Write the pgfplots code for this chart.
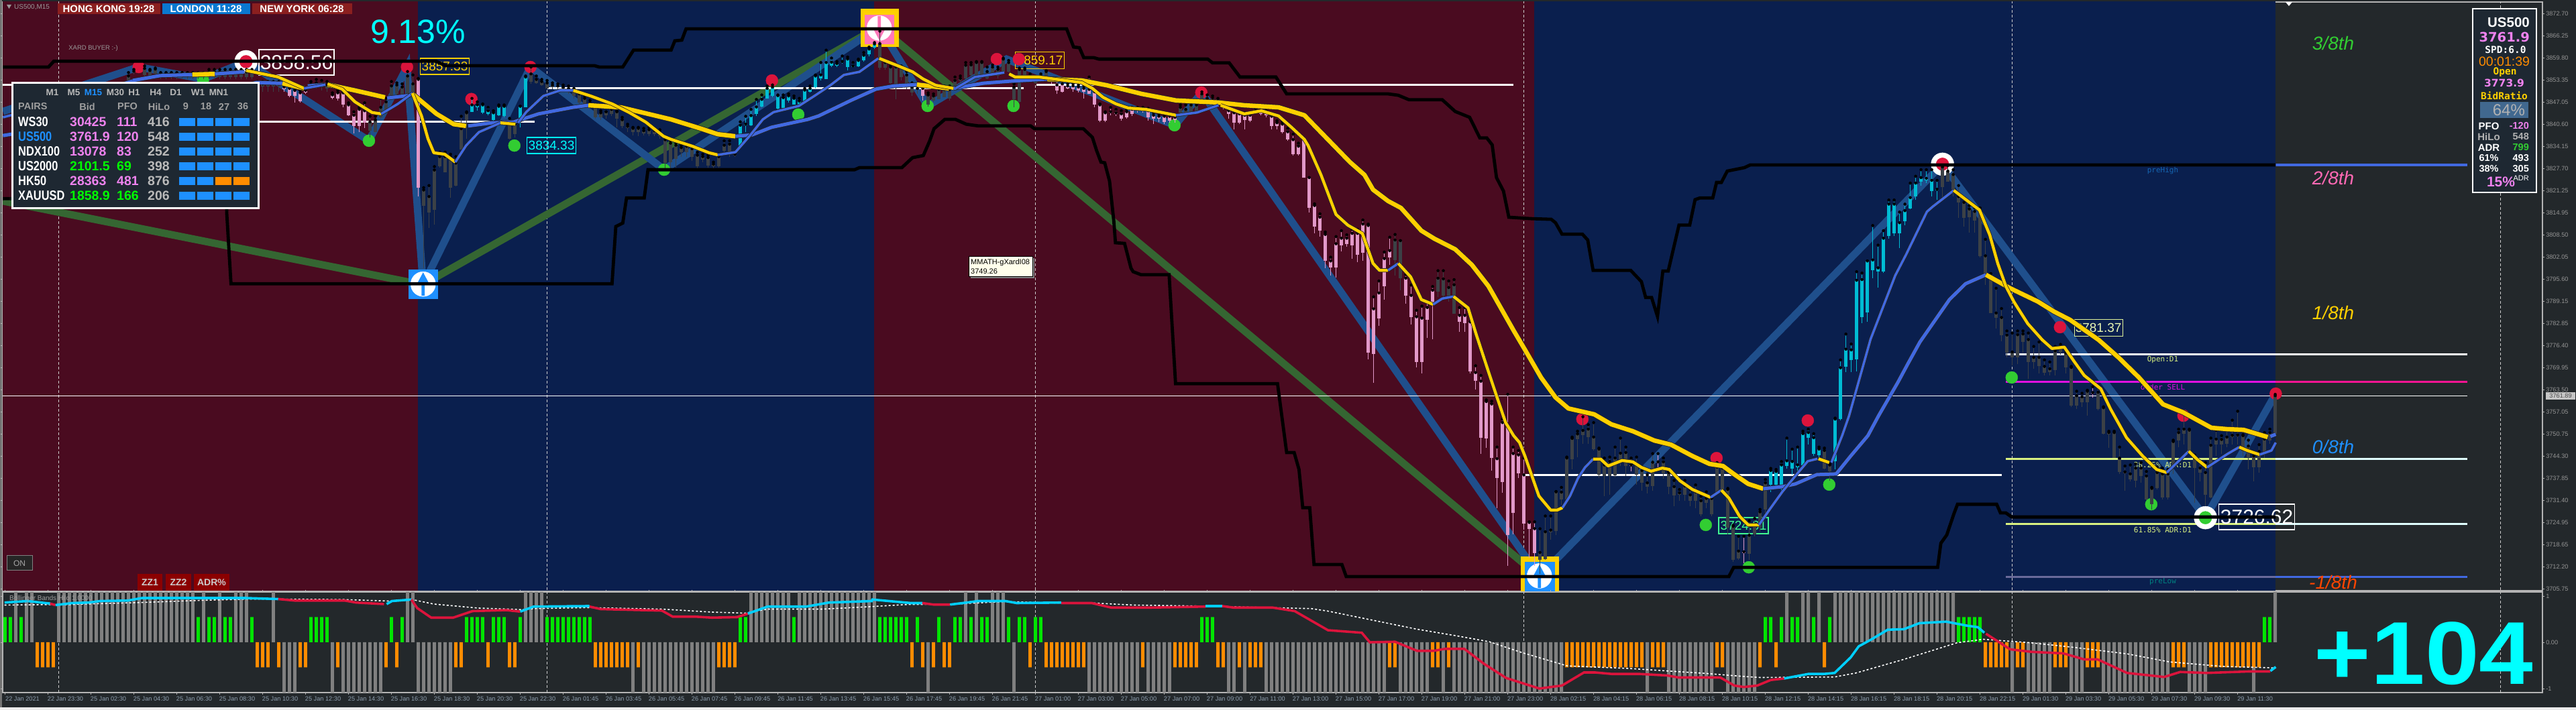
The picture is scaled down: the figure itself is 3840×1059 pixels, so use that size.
\documentclass[border=0pt]{standalone}
\usepackage{fontspec}
\setmainfont{Liberation Sans}
\newfontfamily\mono{DejaVu Sans Mono}
\newfontfamily\dv{DejaVu Sans}
\usepackage{graphicx}
\usepackage{pgfplots}
\usepackage{pgfplotstable}
\pgfplotsset{compat=1.18}
\definecolor{bgd}{HTML}{23282B}
\definecolor{sred}{HTML}{4A0B20}
\definecolor{sblu}{HTML}{0A1F4E}
\definecolor{zgreen}{HTML}{356632}
\definecolor{zblue}{HTML}{1F4F8C}
\definecolor{maB}{HTML}{4169E1}
\definecolor{maG}{HTML}{FFD000}
\definecolor{cpink}{HTML}{E299C9}
\definecolor{ccyan}{HTML}{00BCD4}
\definecolor{cgrey}{HTML}{3C4146}
\definecolor{crim}{HTML}{DC143C}
\definecolor{lime}{HTML}{32CD32}
\definecolor{vio}{HTML}{EE82EE}
\definecolor{pale}{HTML}{D8F080}
\definecolor{dodger}{HTML}{1E90FF}
\definecolor{oran}{HTML}{FF8C00}
\definecolor{gridc}{HTML}{B4B4B4}
\definecolor{aqua}{HTML}{00FFFF}
\definecolor{skyl}{HTML}{00CFFF}
\definecolor{magz}{HTML}{E010E0}
\definecolor{dpink}{HTML}{FF1493}
\definecolor{hpink}{HTML}{FF69B4}
\definecolor{boxpink}{HTML}{FF78B8}
\definecolor{tabr}{HTML}{8B1F1F}
\definecolor{tabb}{HTML}{0A78D0}
\definecolor{plowm}{HTML}{6A6A9A}
\definecolor{icew}{HTML}{DFFFFF}
\definecolor{mint}{HTML}{40FF90}
\definecolor{orred}{HTML}{FF4500}
\definecolor{panf}{HTML}{1E2832}
\definecolor{xlab}{HTML}{8F9FAF}
\definecolor{steel}{HTML}{41688F}
\definecolor{darkr}{HTML}{8B0000}
\newcommand\fs[1]{\fontsize{#1}{#1}\selectfont}
% candles: n high low bodytop bodybottom
\pgfplotstableread{
n hi lo top bot
52 3852.0 3850.0 3851.4 3850.7
53 3851.7 3848.4 3851.0 3848.8
54 3850.7 3846.8 3850.4 3848.8
55 3850.4 3846.8 3849.7 3847.3
56 3850.7 3849.4 3850.4 3849.7
61 3849.7 3847.8 3849.1 3848.3
62 3850.4 3847.5 3849.7 3848.1
63 3850.0 3845.5 3849.7 3846.2
64 3846.8 3842.9 3846.2 3843.2
65 3844.2 3838.0 3843.2 3840.0
66 3845.5 3838.4 3844.9 3840.0
67 3846.8 3839.4 3844.5 3841.0
77 3853.9 3819.6 3853.6 3822.2
171 3851.7 3847.5 3851.0 3848.8
195 3853.9 3852.3 3853.6 3853.0
196 3853.3 3849.4 3852.0 3850.4
197 3853.0 3849.7 3852.3 3850.0
198 3852.3 3850.7 3851.7 3851.0
199 3852.3 3850.0 3851.7 3850.7
200 3852.0 3849.7 3851.4 3850.4
201 3851.7 3848.1 3851.0 3850.0
202 3854.3 3849.4 3850.7 3849.4
203 3850.7 3845.5 3850.0 3846.2
204 3846.5 3841.3 3846.2 3841.6
205 3844.2 3841.3 3843.9 3841.6
206 3845.5 3843.2 3844.2 3843.9
207 3844.9 3842.9 3843.9 3843.6
208 3844.5 3841.6 3843.6 3842.3
209 3844.9 3842.3 3844.2 3842.6
210 3845.5 3842.9 3844.9 3843.6
211 3845.5 3843.9 3844.9 3844.5
212 3845.5 3843.9 3844.9 3844.5
213 3845.2 3841.6 3844.5 3842.6
214 3843.9 3840.6 3843.2 3842.3
215 3843.6 3841.3 3842.9 3842.3
216 3843.6 3840.6 3842.9 3841.3
217 3843.6 3841.0 3842.9 3841.6
218 3843.2 3841.0 3842.6 3841.9
225 3848.8 3847.5 3848.1 3847.8
226 3848.1 3846.8 3847.8 3847.5
227 3846.5 3844.9 3846.2 3845.5
228 3844.9 3842.3 3844.5 3843.6
229 3844.5 3839.0 3843.9 3841.0
230 3843.9 3840.6 3843.6 3841.0
231 3843.9 3839.0 3843.2 3841.9
232 3843.9 3841.3 3843.2 3841.6
233 3845.5 3844.2 3844.9 3844.5
234 3845.5 3843.2 3844.9 3843.6
235 3845.2 3842.6 3844.5 3843.2
236 3842.9 3839.0 3842.9 3840.0
237 3841.6 3839.0 3841.0 3840.0
238 3841.3 3838.0 3840.6 3838.4
239 3839.4 3835.8 3838.4 3836.1
240 3837.7 3831.6 3836.1 3831.9
241 3835.1 3831.6 3834.2 3831.9
242 3836.4 3825.1 3836.1 3825.1
243 3825.1 3815.0 3825.1 3816.3
244 3817.5 3809.0 3817.0 3810.9
245 3814.6 3808.0 3813.6 3809.7
246 3809.3 3798.9 3808.6 3800.9
247 3802.0 3796.7 3800.9 3799.0
248 3808.0 3796.0 3805.9 3799.0
249 3809.7 3803.6 3807.5 3805.5
250 3808.5 3805.0 3807.5 3805.9
251 3810.1 3801.6 3808.9 3805.5
252 3810.1 3800.5 3808.9 3802.8
253 3812.8 3800.9 3811.6 3803.2
254 3811.6 3772.4 3811.2 3774.3
255 3790.5 3765.5 3787.0 3774.0
256 3795.1 3782.0 3791.6 3784.3
257 3803.5 3789.7 3801.6 3793.5
258 3807.8 3799.7 3803.9 3802.0
261 3797.0 3788.5 3795.9 3790.9
262 3793.9 3782.4 3790.9 3784.7
263 3786.6 3770.1 3784.7 3771.6
264 3787.8 3768.2 3784.3 3771.6
265 3788.9 3778.5 3787.4 3783.9
266 3793.5 3778.2 3792.4 3788.2
271 3787.4 3780.4 3785.1 3783.2
272 3787.4 3780.4 3785.1 3782.8
273 3784.7 3768.2 3783.2 3768.9
274 3770.5 3763.5 3768.5 3766.2
275 3767.7 3745.0 3766.0 3749.6
276 3760.6 3746.6 3760.1 3749.4
277 3760.2 3740.0 3759.4 3743.8
278 3746.9 3729.1 3743.5 3738.0
279 3755.0 3733.6 3754.0 3736.7
280 3762.2 3712.5 3752.8 3721.4
281 3746.9 3721.6 3745.0 3727.7
282 3745.9 3737.9 3744.6 3739.3
283 3743.7 3722.9 3738.8 3724.7
284 3725.2 3714.8 3725.0 3723.1
285 3725.2 3712.5 3723.2 3716.1
303 3743.7 3739.8 3741.7 3741.5
308 3745.0 3739.8 3742.6 3742.3
324 3721.0 3713.2 3716.5 3716.1
389 3764.4 3761.2 3762.7 3762.4
}\pinktab
\pgfplotstableread{
n hi lo top bot
87 3848.1 3844.2 3846.2 3844.2
88 3847.1 3844.5 3846.2 3845.5
89 3846.5 3843.6 3846.2 3843.9
90 3845.5 3843.2 3844.5 3843.6
91 3844.5 3841.6 3843.9 3841.9
92 3846.2 3842.9 3845.8 3843.2
93 3846.2 3842.6 3845.8 3842.9
96 3845.8 3839.7 3845.8 3841.9
97 3854.6 3845.5 3854.3 3845.5
137 3841.3 3833.8 3840.3 3833.8
138 3842.9 3838.4 3840.6 3840.3
139 3844.9 3840.0 3843.1 3840.3
140 3847.8 3842.9 3845.6 3843.6
141 3849.1 3845.5 3847.8 3845.8
142 3851.7 3848.1 3851.0 3848.1
143 3852.0 3848.4 3851.4 3848.8
144 3849.1 3844.9 3848.9 3845.2
145 3849.1 3844.9 3848.3 3845.3
146 3849.4 3846.8 3848.8 3847.5
147 3848.8 3846.2 3848.1 3846.2
148 3848.1 3845.5 3847.3 3846.2
149 3851.0 3846.8 3850.5 3847.3
150 3851.7 3849.7 3851.0 3850.0
151 3854.9 3851.0 3854.6 3851.4
152 3858.5 3853.3 3854.9 3853.9
153 3862.1 3853.6 3858.5 3853.6
154 3859.8 3857.2 3858.6 3857.5
155 3858.8 3857.2 3858.2 3857.6
156 3860.4 3858.2 3858.8 3858.5
157 3860.1 3856.2 3859.5 3857.2
158 3858.5 3856.9 3857.5 3857.2
159 3859.5 3857.2 3859.1 3857.4
160 3861.4 3858.8 3860.6 3859.1
161 3863.0 3860.4 3862.4 3860.8
162 3864.3 3862.4 3863.9 3862.8
329 3740.7 3733.9 3740.1 3735.9
330 3740.4 3735.2 3739.8 3735.9
331 3742.7 3733.9 3741.7 3735.9
332 3749.5 3740.7 3742.9 3741.4
333 3746.3 3738.8 3742.7 3740.7
334 3746.9 3739.8 3741.7 3741.1
335 3751.5 3741.4 3750.8 3741.7
336 3752.1 3747.6 3751.1 3749.6
337 3750.8 3744.3 3749.6 3745.0
338 3746.9 3744.0 3746.3 3744.6
341 3755.3 3740.4 3755.0 3742.7
342 3772.2 3754.7 3769.9 3755.0
343 3779.7 3768.7 3775.3 3770.3
344 3776.8 3768.7 3775.1 3772.2
345 3797.8 3768.9 3795.3 3772.4
346 3797.4 3782.8 3795.5 3784.7
347 3800.9 3783.2 3800.9 3785.9
348 3811.2 3795.9 3801.2 3798.2
349 3805.5 3793.2 3798.9 3797.8
350 3809.7 3797.4 3807.5 3797.8
351 3818.6 3807.4 3817.4 3808.2
352 3818.6 3808.2 3817.4 3809.0
353 3815.1 3804.7 3812.0 3809.0
354 3817.4 3811.2 3815.5 3812.4
355 3823.5 3815.9 3819.3 3816.2
356 3825.5 3818.6 3823.5 3819.7
357 3827.4 3822.8 3825.1 3824.0
358 3827.4 3823.6 3824.9 3824.3
359 3827.4 3819.7 3824.3 3821.2
360 3824.3 3818.6 3821.7 3821.3
}\cyantab
\pgfplotstableread{
n hi lo top bot
23 3855.6 3852.6 3854.6 3852.6
24 3856.5 3855.0 3856.0 3855.6
26 3857.5 3854.0 3856.8 3854.8
27 3856.5 3853.6 3856.2 3854.7
28 3856.9 3853.9 3856.6 3855.2
29 3855.6 3853.7 3855.2 3854.7
30 3855.6 3853.7 3855.2 3854.7
31 3855.6 3853.7 3855.2 3854.7
32 3855.6 3853.7 3855.2 3854.7
33 3855.6 3853.7 3855.2 3854.7
34 3855.6 3853.7 3855.2 3854.7
35 3855.6 3853.7 3855.2 3854.7
36 3855.6 3853.7 3855.2 3854.7
37 3855.6 3853.7 3855.2 3854.7
38 3856.5 3853.7 3855.8 3854.3
39 3856.5 3853.7 3855.8 3854.3
40 3856.5 3853.7 3855.8 3854.3
41 3856.5 3853.7 3855.8 3854.3
42 3856.5 3853.7 3855.8 3854.3
43 3856.5 3853.7 3855.8 3854.3
44 3856.5 3853.7 3855.8 3854.3
45 3856.5 3853.7 3855.8 3854.3
46 3856.5 3853.7 3855.8 3854.3
47 3853.0 3850.0 3852.3 3851.6
48 3853.0 3850.0 3852.3 3851.6
49 3853.0 3850.0 3852.3 3851.6
50 3853.0 3850.0 3852.3 3851.6
51 3853.0 3850.0 3852.3 3851.6
57 3853.0 3851.0 3852.3 3851.7
58 3853.6 3851.0 3852.6 3851.7
59 3853.3 3850.4 3852.3 3851.4
60 3853.0 3850.0 3852.0 3851.0
68 3842.9 3836.8 3841.3 3838.7
69 3842.9 3838.4 3841.9 3838.4
70 3848.1 3842.3 3845.5 3842.6
71 3848.1 3843.5 3847.1 3843.9
72 3853.0 3848.8 3851.7 3849.1
73 3852.6 3849.1 3852.0 3849.4
74 3852.3 3848.8 3851.4 3849.1
75 3855.9 3849.1 3854.6 3849.4
76 3854.9 3848.8 3852.3 3848.8
78 3822.2 3798.8 3821.5 3817.0
79 3822.8 3810.5 3819.6 3815.0
80 3828.3 3811.5 3827.3 3815.7
81 3832.5 3828.0 3831.2 3828.3
82 3832.5 3826.7 3831.2 3826.7
83 3831.9 3819.2 3831.2 3822.2
84 3831.2 3822.5 3829.3 3822.8
85 3842.9 3833.2 3839.3 3833.2
86 3844.2 3836.4 3843.9 3841.6
94 3842.3 3836.1 3841.0 3836.4
95 3841.6 3836.8 3840.6 3837.7
98 3857.2 3852.3 3855.2 3853.0
99 3854.6 3852.3 3853.6 3852.6
100 3853.6 3851.7 3853.0 3852.0
101 3853.3 3851.0 3852.6 3851.0
102 3852.6 3850.7 3852.0 3851.4
103 3852.3 3850.7 3851.7 3851.4
104 3852.0 3850.0 3851.4 3851.0
105 3851.7 3849.4 3851.0 3850.7
106 3851.0 3848.1 3850.7 3848.8
107 3849.7 3846.5 3849.4 3846.8
108 3848.8 3845.5 3848.1 3846.2
109 3847.5 3844.9 3846.8 3845.5
110 3846.2 3842.3 3845.8 3842.6
111 3844.5 3841.9 3843.9 3842.6
112 3844.2 3842.3 3844.2 3843.2
113 3845.5 3842.9 3844.9 3843.6
114 3844.5 3839.7 3844.2 3842.3
115 3842.6 3839.4 3841.9 3840.0
116 3840.6 3838.4 3840.0 3839.4
117 3839.7 3837.4 3839.4 3838.4
118 3839.7 3837.1 3839.4 3838.4
119 3839.4 3837.4 3838.7 3838.0
120 3839.7 3837.1 3839.0 3837.7
121 3839.4 3837.1 3838.7 3837.7
122 3839.0 3836.4 3838.4 3837.1
123 3836.7 3827.3 3836.1 3829.3
124 3835.8 3827.7 3835.1 3829.6
125 3835.1 3828.0 3834.5 3830.6
126 3834.5 3831.2 3833.8 3832.5
127 3834.8 3831.2 3834.2 3832.5
128 3834.2 3829.9 3833.5 3831.2
129 3832.5 3827.7 3831.6 3828.3
130 3831.9 3829.6 3831.2 3830.3
131 3831.6 3828.0 3830.9 3828.6
132 3829.6 3827.7 3829.0 3828.3
133 3831.9 3828.0 3831.2 3828.3
134 3835.8 3831.9 3834.5 3832.9
135 3835.8 3831.2 3834.8 3832.5
136 3832.5 3831.2 3831.9 3831.6
163 3867.6 3856.5 3864.0 3856.9
164 3859.1 3856.5 3858.5 3856.9
165 3857.8 3852.3 3857.2 3852.6
166 3857.8 3847.8 3857.2 3852.3
167 3857.5 3853.3 3857.2 3854.3
168 3855.9 3850.7 3854.9 3852.6
169 3852.6 3848.8 3851.4 3849.7
170 3851.7 3849.4 3851.0 3850.7
172 3849.7 3845.8 3849.1 3846.2
173 3849.4 3847.1 3848.8 3847.5
174 3851.4 3847.8 3850.7 3847.8
175 3851.7 3848.4 3850.7 3848.4
176 3851.7 3847.5 3850.7 3848.1
177 3854.3 3850.7 3853.3 3850.7
178 3854.6 3852.6 3853.9 3853.3
179 3858.5 3853.6 3857.7 3853.9
180 3858.5 3854.6 3857.8 3854.9
181 3858.8 3854.3 3858.5 3854.6
182 3858.8 3854.6 3858.5 3854.9
183 3857.2 3853.6 3855.9 3853.9
184 3857.8 3854.6 3857.2 3855.2
185 3857.2 3853.9 3856.5 3854.6
186 3859.8 3855.2 3859.5 3855.9
187 3859.1 3855.6 3858.5 3855.9
188 3852.3 3845.5 3851.4 3847.8
189 3856.9 3846.8 3856.5 3847.1
190 3856.9 3854.3 3856.5 3854.6
191 3855.2 3853.6 3854.6 3853.9
192 3854.3 3852.3 3853.9 3852.6
193 3855.2 3853.6 3854.6 3853.9
194 3856.2 3853.3 3855.9 3853.9
219 3846.2 3843.6 3845.5 3843.9
220 3846.2 3843.2 3844.9 3843.6
221 3846.8 3843.9 3846.2 3843.9
222 3846.8 3843.9 3846.2 3844.2
223 3850.0 3847.5 3849.4 3847.8
224 3849.1 3846.8 3848.1 3847.5
259 3808.6 3796.6 3807.0 3801.2
260 3806.8 3792.4 3806.8 3795.9
267 3798.1 3790.5 3795.9 3792.0
268 3798.1 3789.7 3795.7 3790.9
269 3795.1 3789.0 3793.2 3790.5
270 3795.5 3785.5 3794.0 3785.5
286 3723.2 3710.0 3716.3 3714.2
287 3726.9 3714.2 3722.3 3714.4
288 3726.9 3720.0 3722.8 3722.1
289 3734.0 3721.3 3733.9 3722.6
290 3735.2 3730.2 3733.8 3731.7
291 3744.0 3731.4 3743.7 3731.7
292 3749.8 3740.4 3749.4 3743.3
293 3751.5 3744.0 3750.7 3749.2
294 3755.7 3747.9 3751.7 3750.4
295 3753.4 3747.9 3752.1 3749.8
296 3754.0 3745.9 3749.8 3746.3
297 3746.6 3738.0 3746.3 3738.8
298 3743.7 3732.6 3741.7 3738.4
299 3744.0 3733.0 3742.7 3738.5
300 3746.9 3738.2 3743.7 3738.6
301 3749.5 3741.4 3745.1 3743.4
302 3746.9 3738.5 3745.3 3741.4
304 3744.0 3735.9 3741.7 3738.9
305 3741.1 3734.3 3740.1 3736.5
306 3738.8 3733.4 3736.5 3735.4
307 3745.0 3734.3 3742.5 3735.6
309 3743.7 3737.8 3742.6 3739.3
310 3739.8 3733.3 3739.5 3735.4
311 3737.2 3729.7 3735.4 3732.8
312 3734.6 3731.3 3733.6 3733.0
313 3737.2 3731.3 3735.6 3733.0
314 3734.6 3729.7 3733.0 3731.3
315 3735.9 3729.1 3733.9 3731.3
316 3732.6 3726.8 3731.3 3727.4
317 3733.9 3729.1 3732.0 3730.7
318 3732.6 3726.8 3732.0 3727.4
319 3742.4 3733.6 3741.1 3733.9
320 3741.7 3733.9 3740.8 3734.6
321 3734.9 3721.6 3734.6 3723.6
322 3724.2 3713.5 3723.9 3714.2
323 3721.0 3714.2 3716.7 3714.5
325 3725.5 3714.2 3721.3 3716.0
326 3726.2 3721.0 3724.2 3721.6
327 3728.8 3722.3 3728.1 3723.6
328 3737.5 3727.4 3736.5 3728.8
339 3746.6 3740.4 3745.9 3740.7
340 3742.1 3737.2 3741.7 3739.8
361 3828.6 3818.9 3828.2 3822.4
362 3828.6 3824.0 3827.0 3824.0
363 3827.4 3819.6 3826.0 3821.5
364 3822.8 3813.4 3819.6 3817.9
365 3818.9 3810.8 3817.9 3813.4
366 3817.0 3809.2 3816.0 3813.7
367 3816.3 3809.2 3815.3 3812.7
368 3816.3 3802.0 3815.7 3802.4
369 3807.2 3794.0 3802.4 3797.2
370 3797.2 3785.8 3797.2 3785.8
371 3793.0 3781.3 3785.8 3784.5
372 3787.1 3777.7 3784.5 3779.4
373 3780.6 3772.9 3779.4 3774.3
374 3780.0 3770.6 3774.5 3772.9
375 3780.6 3770.9 3779.5 3773.0
376 3780.6 3774.2 3779.7 3777.4
377 3780.0 3766.7 3778.1 3771.6
378 3776.1 3769.6 3772.9 3771.6
379 3777.4 3768.3 3772.9 3770.4
380 3772.2 3767.7 3770.3 3768.4
381 3771.6 3767.7 3769.6 3768.6
382 3776.1 3767.7 3774.8 3769.3
383 3776.7 3773.8 3776.1 3774.5
384 3774.8 3768.3 3774.2 3770.0
385 3770.3 3758.6 3770.0 3758.9
386 3763.1 3757.9 3761.8 3758.9
387 3762.5 3758.6 3761.5 3759.9
388 3763.4 3756.0 3763.1 3759.9
390 3764.7 3757.6 3762.8 3758.0
391 3758.6 3750.5 3758.3 3750.8
392 3751.5 3746.6 3751.1 3750.5
393 3751.5 3743.7 3751.1 3743.7
394 3746.9 3739.1 3743.7 3739.7
395 3741.4 3734.3 3739.7 3739.3
396 3741.7 3736.9 3739.1 3737.5
397 3742.0 3735.2 3740.8 3737.2
398 3742.4 3736.5 3740.8 3738.5
399 3739.8 3731.4 3738.5 3731.7
400 3735.2 3728.8 3734.9 3730.4
401 3741.1 3734.6 3739.5 3734.9
402 3740.8 3731.7 3739.1 3732.3
403 3740.4 3731.7 3739.1 3732.3
404 3748.9 3739.1 3748.5 3741.1
405 3752.1 3746.9 3751.1 3748.9
406 3756.6 3747.6 3752.1 3750.8
407 3752.1 3745.0 3751.8 3745.6
408 3744.6 3730.7 3743.7 3740.8
409 3742.4 3736.9 3740.8 3739.5
410 3742.4 3730.0 3739.5 3733.0
411 3749.5 3732.0 3747.4 3732.3
412 3751.8 3744.3 3749.2 3747.6
413 3750.2 3745.0 3749.1 3747.6
414 3751.8 3746.9 3749.8 3747.9
415 3754.7 3747.6 3750.3 3749.8
416 3757.3 3747.6 3750.4 3750.0
417 3750.5 3744.3 3750.2 3745.6
418 3748.9 3740.4 3747.2 3744.0
419 3745.0 3736.9 3744.3 3741.1
420 3747.6 3739.4 3745.6 3741.1
421 3751.1 3743.7 3749.2 3745.0
422 3752.1 3747.9 3751.1 3748.9
423 3762.2 3750.8 3761.8 3750.8
}\greytab
% a candle group: wick and body as error bars
\newcommand\candles[2]{%
\addplot[only marks,mark=none,forget plot,error bars/.cd,y dir=minus,y explicit,error mark=none,error bar style={color=#2,line width=1.2pt}] table[x=n,y=hi,y error minus expr=\thisrow{hi}-\thisrow{lo}] {#1};
\addplot[only marks,mark=none,forget plot,error bars/.cd,y dir=minus,y explicit,error mark=none,error bar style={color=#2,line width=5.4pt}] table[x=n,y=top,y error minus expr=\thisrow{top}-\thisrow{bot}] {#1};}
% a moving-average segment: dark outline then colour
\newcommand\ma[3]{%
\addplot[color=black!85,line width=#2+1.6pt,line join=round] coordinates {#3};
\addplot[color=#1,line width=#2,line join=round] coordinates {#3};}
\newcommand\slow[2]{\ma{#1}{\csname ws#1\endcsname}{#2}}
\newcommand\fast[2]{\ma{#1}{\csname wf#1\endcsname}{#2}}
\expandafter\def\csname wsmaB\endcsname{5pt}
\expandafter\def\csname wsmaG\endcsname{6.5pt}
\expandafter\def\csname wfmaB\endcsname{3.5pt}
\expandafter\def\csname wfmaG\endcsname{4.3pt}
% text placed on the chart by its picture position
\newcommand\txt[4]{\node[anchor=center,inner sep=0pt,#1] at (axis cs:{(#2-7.5)/8},{3876.65-0.19459*#3}) {#4};}
% absolute helpers
\newcommand\Rr[5]{\fill[#5] (#1pt,{1059pt-#2pt}) rectangle (#3pt,{1059pt-#4pt});}
\newcommand\Tx[5]{\node[anchor=#1,inner sep=0pt,#4] at (#2pt,{1059pt-#3pt}) {#5};}
\begin{document}
\begin{tikzpicture}[x=1pt,y=1pt]
\path[use as bounding box] (0,0) rectangle (3840pt,1059pt);
\fill[bgd] (0,0) rectangle (3840pt,1059pt);
\fill[black!55] (0,0) rectangle (3pt,1059pt);
\fill[gridc!70] (0,0) rectangle (3840pt,1.5pt);
\begin{axis}[
  at={(4pt,178pt)},anchor=south west,scale only axis,width=3786pt,height=878pt,
  clip mode=individual,
  xmin=-0.44,xmax=472.8,ymin=3705.22,ymax=3876.07,
  xtick=\empty,
  ytick={3872.70,3866.25,3859.80,3853.35,3847.05,3840.60,3834.15,3827.70,3821.25,3814.95,3808.50,3802.05,3795.60,3789.15,3782.85,3776.40,3769.95,3763.50,3757.05,3750.75,3744.30,3737.85,3731.40,3724.95,3718.65,3712.20,3705.75},
  yticklabels={3872.70,3866.25,3859.80,3853.35,3847.05,3840.60,3834.15,3827.70,3821.25,3814.95,3808.50,3802.05,3795.60,3789.15,3782.85,3776.40,3769.95,3763.50,3757.05,3750.75,3744.30,3737.85,3731.40,3724.95,3718.65,3712.20,3705.75},
  yticklabel pos=right,tick align=outside,major tick length=3pt,
  yticklabel style={font=\fs{9.2},text=gray!85,inner sep=1pt,xshift=1pt},
  tick style={color=gridc,line width=0.8pt},
  axis line style={draw=gridc,line width=1.5pt},
  axis background/.style={fill=bgd},
]
% sessions
\addplot[fill=sred,draw=none] coordinates {(-0.6,3700)(-0.6,3880)(76.9,3880)(76.9,3700)} --cycle;
\addplot[fill=sblu,draw=none] coordinates {(76.9,3700)(76.9,3880)(161.9,3880)(161.9,3700)} --cycle;
\addplot[fill=sred,draw=none] coordinates {(161.9,3700)(161.9,3880)(284.9,3880)(284.9,3700)} --cycle;
\addplot[fill=sblu,draw=none] coordinates {(284.9,3700)(284.9,3880)(423,3880)(423,3700)} --cycle;
% day separators
\pgfplotsinvokeforeach{10,101,192,283,374,465}{\addplot[color=white!80!black,line width=0.8pt,dash pattern=on 4pt off 3pt] coordinates {(#1,3700)(#1,3880)};}
% zigzags
\addplot[color=zgreen,line width=11pt,line join=miter] coordinates {(-0.4,3818.3)(77.8,3794.0)(162.9,3868.9)(285.9,3709.3)};
\addplot[color=zblue,line width=11pt,line join=miter] coordinates {(-0.4,3844.3)(24.9,3857.2)(36.9,3853.7)(44.9,3858.75)(67.8,3835.8)(74.9,3857.2)(77.9,3794.0)(97.9,3857.2)(122.8,3827.4)(162.9,3868.9)(171.9,3845.9)(186.6,3859.5)(218,3840.3)(223,3849.8)(285.9,3709.3)(361,3829)(410,3726.4)(423.1,3762.4)};
% arrow boxes
\addplot[only marks,mark=square*,mark size=21.5pt,color=dodger] coordinates {(77.9,3794.2)};
\addplot[only marks,mark=square*,mark size=28pt,color=maG] coordinates {(162.9,3868.6)(285.9,3709.6)};
\addplot[only marks,mark=square*,mark size=21.5pt,color=boxpink] coordinates {(162.9,3868.2)};
\addplot[only marks,mark=square*,mark size=22pt,color=dodger] coordinates {(285.9,3709.3)};
\addplot[only marks,mark=*,mark size=18.5pt,color=white] coordinates {(77.9,3794.2)(162.9,3868.5)(285.9,3709.5)};
\addplot[fill=dodger,draw=none] coordinates {(77.9,3797.6)(79.1,3794.1)(78.2,3794.1)(78.2,3790.8)(77.6,3790.8)(77.6,3794.1)(76.7,3794.1)} --cycle;
\addplot[fill=dodger,draw=none] coordinates {(285.9,3712.8)(287.1,3709.3)(286.2,3709.3)(286.2,3706)(285.6,3706)(285.6,3709.3)(284.7,3709.3)} --cycle;
\addplot[fill=boxpink,draw=none] coordinates {(162.9,3865)(164.1,3868.5)(163.2,3868.5)(163.2,3872)(162.6,3872)(162.6,3868.5)(161.7,3868.5)} --cycle;
% horizontal levels
\addplot[color=white,line width=3pt] coordinates {(-0.4,3852.1)(47,3852.1)};
\addplot[color=white,line width=3pt] coordinates {(47.3,3841.3)(98.7,3841.3)};
\addplot[color=white,line width=3pt] coordinates {(101,3851)(189.8,3851)};
\addplot[color=white,line width=3pt] coordinates {(192.2,3852)(281.1,3852)};
\addplot[color=white,line width=3pt] coordinates {(283,3738.8)(372,3738.8)};
\addplot[color=white,line width=1.4pt] coordinates {(-0.4,3761.8)(458.8,3761.8)};
\addplot[color=white,line width=3pt] coordinates {(372.8,3773.9)(458.8,3773.9)};
\addplot[color=magz,line width=3pt] coordinates {(372.8,3765.9)(423,3765.9)};
\addplot[color=dpink,line width=3pt] coordinates {(423,3765.9)(458.8,3765.9)};
\addplot[color=pale,line width=3pt] coordinates {(372.8,3743.4)(423,3743.4)};
\addplot[color=icew,line width=3pt] coordinates {(423,3743.4)(458.8,3743.4)};
\addplot[color=pale,line width=3pt] coordinates {(372.8,3724.5)(423,3724.5)};
\addplot[color=icew,line width=3pt] coordinates {(423,3724.5)(458.8,3724.5)};
\addplot[color=plowm,line width=3.5pt] coordinates {(372.8,3709.2)(423,3709.2)};
\addplot[color=maB,line width=3.5pt] coordinates {(423,3709.2)(458.8,3709.2)};
\addplot[color=maB,line width=3.5pt] coordinates {(423,3828.8)(458.8,3828.8)};
% level texts
\txt{text=dodger!70!black,font=\mono\fs{11}}{3224}{254}{preHigh}
\txt{text=pale,font=\mono\fs{11}}{3224}{537}{Open:D1}
\txt{text=magz,font=\mono\fs{11}}{3224}{577}{order SELL}
\txt{text=pale,font=\mono\fs{11}}{3224}{693}{38.25\% ADR:D1}
\txt{text=pale,font=\mono\fs{11}}{3224}{790}{61.85\% ADR:D1}
\txt{text=teal,font=\mono\fs{11}}{3224}{868}{preLow}
\txt{text=gray!80,font=\fs{9.5}}{139}{72}{XARD BUYER :-)}
% value labels
\node[draw=white,line width=1.2pt,inner sep=0pt,minimum width=112pt,minimum height=38pt,text=white,font=\fs{30}] at (axis cs:{(442-7.5)/8},{3876.65-0.19459*93}) {3858.56};
\node[draw=maG,line width=1.2pt,inner sep=0pt,minimum width=73pt,minimum height=24pt,text=maG,font=\fs{19}] at (axis cs:{(663-7.5)/8},{3876.65-0.19459*99}) {3857.33};
\node[draw=aqua,line width=1.2pt,inner sep=0pt,minimum width=73pt,minimum height=24pt,text=aqua,font=\fs{19}] at (axis cs:{(822-7.5)/8},{3876.65-0.19459*217}) {3834.33};
\node[draw=maG,line width=1.2pt,inner sep=0pt,minimum width=73pt,minimum height=25pt,text=maG,font=\fs{19}] at (axis cs:{(1550-7.5)/8},{3876.65-0.19459*90}) {3859.17};
\node[draw=pale!80!white,line width=1.2pt,inner sep=0pt,minimum width=72pt,minimum height=25pt,text=pale!60!white,font=\fs{19}] at (axis cs:{(3128-7.5)/8},{3876.65-0.19459*489}) {3781.37};
\node[draw=mint,line width=1.2pt,inner sep=0pt,minimum width=74pt,minimum height=24pt,text=mint,font=\fs{19}] at (axis cs:{(2599-7.5)/8},{3876.65-0.19459*784}) {3724.91};
\node[draw=white,line width=1.2pt,inner sep=0pt,minimum width=113pt,minimum height=38pt,text=white,font=\fs{30}] at (axis cs:{(3364-7.5)/8},{3876.65-0.19459*771}) {3726.62};
% dots
\addplot[only marks,mark=*,mark size=9pt,color=crim] coordinates {(24.9,3857.2)(74.9,3857.2)(86.9,3847.9)(97.9,3857.2)(142.9,3853.3)(184.8,3859.5)(188.9,3859.5)(222.9,3849.8)(293.9,3755)(318.9,3743.7)(335.9,3754.6)(382.9,3781.7)(405.9,3756)(423.1,3762.4)};
\addplot[only marks,mark=*,mark size=9pt,color=lime] coordinates {(36.9,3853.7)(67.8,3835.8)(94.9,3834.4)(122.8,3827.4)(147.8,3843.4)(171.9,3845.9)(187.9,3845.9)(217.9,3840.3)(316.9,3724.3)(324.9,3712)(339.9,3736)(373.9,3767.1)(399.9,3730.3)};
\addplot[only marks,mark=*,mark size=17pt,color=white] coordinates {(44.9,3858.75)(361,3829)(410,3726.4)};
\addplot[only marks,mark=*,mark size=9.5pt,color=crim] coordinates {(44.9,3858.75)(361,3829)};
\addplot[only marks,mark=*,mark size=9.5pt,color=lime] coordinates {(410,3726.4)};
% candles
\candles{\greytab}{cgrey}
\candles{\pinktab}{cpink}
\candles{\cyantab}{ccyan}
% envelopes
\addplot[color=black,line width=4.8pt,line join=miter] coordinates {(-0.4,3857.2)(8.1,3857.2)(9.1,3858.9)(80.3,3858.9)(82,3857.6)(109.8,3857.6)(110.7,3857.2)(115.1,3857.2)(117.1,3862.1)(124.1,3862.1)(124.8,3864.8)(126.1,3865)(126.9,3868.3)(197.8,3868.3)(199.1,3863)(200.2,3862.8)(201,3859.9)(202.9,3859.9)(203.8,3859.5)(224.1,3859.5)(225,3858.4)(228.1,3858.4)(230.1,3854.3)(236.8,3854.3)(238.8,3849.4)(257.7,3849.4)(259.6,3849)(261.6,3847.7)(267.8,3847.7)(270.2,3844.3)(272.9,3842.6)(274.8,3836.6)(276.1,3836.6)(277.1,3834.6)(277.9,3825.1)(279.2,3821.2)(280.2,3813.6)(284.2,3813.2)(288.1,3813)(288.9,3812)(290.1,3808.7)(293.9,3808.7)(294.9,3807)(295.9,3798.2)(302.9,3798.2)(304.9,3794.9)(305.7,3790.3)(306.8,3790.3)(307.9,3784.8)(308.9,3798)(309.9,3798)(311.9,3811.3)(313.9,3811.3)(314.9,3818.7)(315.8,3819.2)(318.2,3819.2)(318.9,3823.7)(319.8,3823.7)(320.9,3827)(324.1,3828)(325.2,3828.8)(423.1,3828.8)};
\addplot[color=black,line width=4.8pt,line join=miter] coordinates {(-0.4,3819)(41.3,3819)(41.3,3815)(42.1,3794.3)(113.1,3794.3)(113.8,3810.9)(115.1,3811.9)(115.8,3819.2)(119.1,3819.2)(119.8,3827.4)(158.3,3827.4)(159.2,3828)(167.1,3828)(169.1,3830.9)(171.1,3831.5)(172.3,3835.8)(173.1,3839.3)(175.1,3842)(177.1,3842)(179.1,3840.6)(181.4,3840.1)(191.1,3840.1)(191.8,3839.3)(200.9,3839.3)(202.6,3836.8)(203.4,3832.9)(204.2,3829.6)(204.9,3829.4)(205.8,3824.1)(206.6,3812.4)(206.9,3806.2)(208.6,3806)(209.8,3798.8)(210.2,3797.8)(211.7,3796.9)(216.9,3796.9)(218.1,3765.3)(237.1,3765.3)(238.8,3745.3)(240.2,3745.3)(241.1,3740.4)(241.8,3729.3)(243.1,3729.3)(243.9,3712.8)(249.1,3712.8)(249.9,3709.3)(321.2,3709.3)(322.1,3712)(360.1,3712)(360.7,3719)(361.8,3721.4)(363.1,3727.4)(363.8,3730.3)(371.1,3730.3)(371.8,3727.8)(372.8,3727.8)(373.9,3726.6)(423.1,3726.6)};
% slow average
\slow{maB}{(-0.4,3837.3)(24.1,3843.6)(46.9,3852.7)(50.9,3852.5)(51.7,3852.5)}
\slow{maG}{(51.7,3852.5)(55.7,3851)}
\slow{maB}{(56.4,3851.7)(59.7,3852.1)}
\slow{maG}{(60.1,3852.1)(65.2,3850.4)(70.8,3848.4)}
\slow{maB}{(71.2,3848.2)(75.6,3849)}
\slow{maG}{(75.9,3849.4)(80.4,3843.6)(83.6,3840.6)(85.9,3840.1)}
\slow{maB}{(86.3,3840.1)(90.7,3841)(94.7,3841.2)(99.4,3843.6)(105.8,3845.5)(108.7,3846.1)}
\slow{maG}{(108.7,3846.1)(114.7,3845.5)(124.1,3842)(129.7,3839.3)(132.8,3837.7)(136.1,3837.1)}
\slow{maB}{(136.1,3837.1)(139.2,3837.5)(142.8,3839.7)(149.6,3842)(151.6,3843)(157.6,3847.5)(162.3,3850.8)(165.6,3851.7)(169.9,3852.1)}
\slow{maG}{(169.9,3852.1)(175.9,3851)}
\slow{maB}{(176.7,3851)(182.3,3852.5)(187.4,3853.1)(194.2,3853.7)}
\slow{maG}{(194.2,3853.7)(200.6,3853.3)(205.3,3851.9)(211.8,3849.4)(218.2,3847.5)(226.1,3846.9)(230.9,3846.1)(237.3,3845.5)(242.1,3843.2)(246.1,3836.8)(250.6,3829.6)(253.3,3825.9)(254.9,3821.6)(257.7,3818.3)(260.1,3816.3)(263.9,3809.7)(266.3,3807.4)(270.2,3804.3)(273.3,3799.8)(276.4,3793.6)(278.7,3787.3)(281.1,3780.7)(283.3,3774.9)(286.2,3767.1)(288.9,3761.3)(291.3,3758.1)(296.1,3756.4)(299.3,3753.5)(303.3,3751.5)(307.3,3748.8)(310.4,3747.6)(314.4,3744.3)(317.6,3742)(320.1,3741.4)(322.1,3739.1)(324.8,3736.2)(327.6,3734.8)}
\slow{maB}{(327.6,3734.8)(331.2,3735.4)(333.6,3736.2)(337.6,3738.9)(341.2,3739.1)(343.9,3744.3)(347.1,3750.2)(349.1,3756)(352.7,3765.7)(354.6,3771.2)(356.8,3777.4)(362.3,3789.7)(365.3,3794.3)(369.1,3796.9)}
\slow{maG}{(369.1,3796.9)(373.6,3793)(378.8,3789.1)(381.8,3786.2)(384.8,3783.8)(390.1,3778)(393.8,3772.9)(397.6,3767.1)(402.1,3759.3)(405.8,3757)(411.1,3752.5)(414.1,3752.1)(417.1,3751.9)(421.6,3749.8)}
\slow{maB}{(422.1,3750)(423.1,3750.6)}
% fast average
\fast{maB}{(-0.4,3842.6)(11.6,3847.5)(23.8,3853.3)}
\slow{maB}{(23.8,3853.3)(28.9,3854.7)(34.9,3855)}
\slow{maG}{(34.9,3855)(39.1,3855.2)}
\slow{maB}{(39.1,3855.2)(44.6,3855.8)}
\fast{maG}{(44.9,3856.2)(50.9,3854.3)(55.7,3851)}
\fast{maB}{(55.7,3851)(59.7,3852.1)}
\fast{maG}{(60.1,3852.3)(62.8,3850.8)(65.2,3847.1)(68.4,3844)(70.1,3843.6)}
\fast{maB}{(70.1,3843.6)(73.2,3846.5)(75.9,3849.6)}
\fast{maG}{(75.9,3849.6)(77.6,3843)(78.8,3836.4)(79.9,3832.3)(81.9,3831.9)(83.9,3829.6)}
\fast{maB}{(83.9,3829.6)(85.9,3834.4)(88.3,3838.3)(92.3,3841)}
\fast{maG}{(92.3,3841)(95.1,3840.6)}
\fast{maB}{(95.6,3841)(97.1,3844.1)(100.3,3848.8)(103.4,3850.4)(105.9,3850.4)}
\fast{maG}{(105.9,3850.4)(109.1,3848.8)(113.1,3846.5)(116.3,3844)(119.4,3841.2)(122.7,3837.1)(124.1,3836.2)(128.1,3834.2)(131.2,3832.3)(132.8,3831.7)}
\fast{maB}{(132.8,3831.7)(136.1,3832.5)(138.8,3837.3)(141.2,3842)(143.2,3844.1)(147.9,3845.9)(150.8,3848.8)(153.6,3851.7)(156.3,3854.9)(159.2,3855.8)(162.7,3859.7)}
\fast{maG}{(162.9,3859.7)(166.3,3857.6)(169.1,3855.8)(171.1,3853.7)(173.4,3851.9)(176.7,3851)}
\fast{maB}{(177.1,3851)(180.7,3854.3)(186.2,3855.6)}
\fast{maG}{(187.1,3855.2)(188.2,3854.3)(192.6,3854.3)(194.6,3853.9)(200.6,3852.7)(202.6,3851)(204.6,3848.4)(207,3846.5)(209.3,3845.3)(212.6,3844.9)(218.2,3843.2)}
\fast{maB}{(218.2,3843.2)(222.1,3844)(226.1,3846.1)}
\fast{maG}{(226.5,3846.1)(230.9,3843.6)(234.1,3844.5)(237.3,3843)(239.7,3839.7)(242.1,3836.2)(242.8,3834.4)(245.2,3825.9)(248,3814.4)(250.2,3811.3)(252.9,3808.9)(254.9,3800.2)(256.1,3798.2)(257.7,3798.2)}
\fast{maB}{(257.7,3798.2)(259.6,3800.2)}
\fast{maG}{(259.6,3800.2)(261.9,3796.3)(263.9,3789.7)(266.1,3788.3)}
\fast{maB}{(266.1,3788.3)(267.8,3790)(269.9,3790.6)}
\fast{maG}{(269.9,3790.6)(272.6,3787.3)(274.1,3779.7)(276.4,3768.8)(277.9,3761.8)(279.6,3754)(281.1,3750.2)(282.2,3748.2)(283.2,3744.3)(284.5,3738.5)(285.8,3732.7)(288,3728.6)(289.2,3728.6)(290.2,3729.3)}
\fast{maB}{(290.2,3729.3)(291.6,3732.7)(293.1,3737.9)(294.4,3741)(295.9,3743.4)}
\fast{maG}{(295.9,3743.4)(297.3,3743.4)(298.7,3741.4)(301.3,3743)(303.3,3742.6)(304.9,3741)(306.7,3739.9)(308.8,3740.8)(310.1,3740.4)(312.1,3737.1)(314.4,3734.6)(317.8,3732.3)}
\fast{maB}{(317.8,3732.3)(319.8,3734.4)}
\fast{maG}{(319.8,3734.4)(321.2,3732.1)(323.2,3726.8)(324.8,3724.3)(326.8,3724.3)}
\fast{maB}{(326.8,3724.3)(328.8,3728.8)(331.2,3734)(333.9,3739.1)(335.9,3742.8)(337.7,3743.5)}
\fast{maG}{(337.9,3743.5)(339.9,3742.4)}
\fast{maB}{(340.3,3742.4)(342.3,3750.2)(343.6,3756)(347.6,3778.2)(352.2,3796.7)(354.2,3802.7)(358.1,3815.2)(359.2,3816.7)(363.1,3821.4)}
\fast{maG}{(363.1,3821.4)(367.9,3815.7)(369.8,3808.5)(371.3,3800.2)(372.8,3793.6)(374.3,3789.1)(375.1,3787.1)(376.9,3782.7)(379.6,3778)(381.4,3775.5)(383.7,3775.9)(385.6,3771.6)(387.4,3767.7)(390.5,3763.8)(392.3,3758)(395.3,3749.6)(398.3,3744.3)(400.9,3740.4)(402.8,3739.5)}
\fast{maB}{(402.8,3739.5)(406.9,3745.7)}
\fast{maG}{(406.9,3745.7)(408.4,3743.4)(410.3,3741)}
\fast{maB}{(410.3,3741)(414.1,3744.9)(416.3,3746.9)}
\fast{maG}{(416.3,3746.9)(417.8,3745.9)(420.1,3744.7)}
\fast{maB}{(420.1,3744.7)(422.3,3745.9)(423.1,3748.2)}
\end{axis}
\begin{axis}[
  at={(4pt,26pt)},anchor=south west,scale only axis,width=3786pt,height=150pt,
  clip mode=individual,
  xmin=-0.44,xmax=472.8,ymin=-1,ymax=1,
  xtick={0,8,...,416},
  xticklabels={22 Jan 2021,22 Jan 23:30,25 Jan 02:30,25 Jan 04:30,25 Jan 06:30,25 Jan 08:30,25 Jan 10:30,25 Jan 12:30,25 Jan 14:30,25 Jan 16:30,25 Jan 18:30,25 Jan 20:30,25 Jan 22:30,26 Jan 01:45,26 Jan 03:45,26 Jan 05:45,26 Jan 07:45,26 Jan 09:45,26 Jan 11:45,26 Jan 13:45,26 Jan 15:45,26 Jan 17:45,26 Jan 19:45,26 Jan 21:45,27 Jan 01:00,27 Jan 03:00,27 Jan 05:00,27 Jan 07:00,27 Jan 09:00,27 Jan 11:00,27 Jan 13:00,27 Jan 15:00,27 Jan 17:00,27 Jan 19:00,27 Jan 21:00,27 Jan 23:00,28 Jan 02:15,28 Jan 04:15,28 Jan 06:15,28 Jan 08:15,28 Jan 10:15,28 Jan 12:15,28 Jan 14:15,28 Jan 16:15,28 Jan 18:15,28 Jan 20:15,28 Jan 22:15,29 Jan 01:30,29 Jan 03:30,29 Jan 05:30,29 Jan 07:30,29 Jan 09:30,29 Jan 11:30},
  ytick={-0.92,0,0.92},yticklabels={-1,0.00,1},
  yticklabel pos=right,tick align=outside,major tick length=3pt,
  yticklabel style={font=\fs{9.2},text=gray!85,inner sep=1pt,xshift=1pt},
  xticklabel style={font=\fs{9.2},text=xlab,anchor=north,inner sep=0pt,yshift=-3pt,xshift=26pt},
  tick style={color=gridc,line width=0.8pt},
  axis line style={draw=gridc,line width=1.5pt},
  axis background/.style={fill=bgd},
]
\pgfplotsinvokeforeach{10,101,192,283,374,465}{\addplot[color=white!80!black,line width=0.8pt,dash pattern=on 4pt off 3pt] coordinates {(#1,-1)(#1,1)};}
\addplot[ybar,bar width=4.8pt,bar shift=0pt,fill=gray,draw=none] coordinates {(2,1)(4,1)(5,1)(10,1)(11,1)(12,1)(13,1)(14,1)(15,1)(16,1)(17,1)(18,1)(19,1)(20,1)(21,1)(22,1)(23,1)(24,1)(25,1)(26,1)(27,1)(28,1)(29,1)(30,1)(31,1)(32,1)(33,1)(34,1)(35,1)(37,1)(40,1)(43,1)(44,1)(45,1)(50,1)(75,1)(76,1)(97,1)(98,1)(99,1)(100,1)(139,1)(140,1)(141,1)(142,1)(143,1)(144,1)(145,1)(146,1)(148,1)(149,1)(150,1)(151,1)(152,1)(153,1)(154,1)(155,1)(156,1)(157,1)(158,1)(159,1)(160,1)(161,1)(162,1)(179,1)(181,1)(184,1)(185,1)(186,1)(332,1)(335,1)(336,1)(338,1)(341,1)(342,1)(343,1)(344,1)(345,1)(346,1)(347,1)(348,1)(349,1)(350,1)(351,1)(352,1)(353,1)(354,1)(355,1)(356,1)(357,1)(358,1)(359,1)(360,1)(361,1)(362,1)(363,1)(423,1)};
\addplot[ybar,bar width=4.8pt,bar shift=0pt,fill=gray,draw=none] coordinates {(52,-1)(53,-1)(54,-1)(61,-1)(63,-1)(64,-1)(65,-1)(66,-1)(67,-1)(68,-1)(69,-1)(70,-1)(77,-1)(78,-1)(79,-1)(80,-1)(81,-1)(82,-1)(83,-1)(117,-1)(119,-1)(120,-1)(121,-1)(122,-1)(123,-1)(124,-1)(125,-1)(126,-1)(127,-1)(128,-1)(129,-1)(130,-1)(131,-1)(132,-1)(172,-1)(188,-1)(202,-1)(203,-1)(204,-1)(205,-1)(206,-1)(207,-1)(208,-1)(209,-1)(210,-1)(211,-1)(213,-1)(214,-1)(215,-1)(216,-1)(217,-1)(228,-1)(229,-1)(231,-1)(235,-1)(236,-1)(237,-1)(238,-1)(239,-1)(240,-1)(241,-1)(242,-1)(243,-1)(244,-1)(245,-1)(246,-1)(247,-1)(248,-1)(249,-1)(250,-1)(251,-1)(252,-1)(253,-1)(254,-1)(255,-1)(256,-1)(257,-1)(260,-1)(261,-1)(262,-1)(263,-1)(264,-1)(265,-1)(268,-1)(270,-1)(271,-1)(272,-1)(273,-1)(274,-1)(275,-1)(276,-1)(277,-1)(278,-1)(279,-1)(280,-1)(281,-1)(282,-1)(283,-1)(284,-1)(285,-1)(286,-1)(287,-1)(288,-1)(289,-1)(290,-1)(306,-1)(310,-1)(311,-1)(312,-1)(313,-1)(314,-1)(315,-1)(316,-1)(317,-1)(318,-1)(321,-1)(322,-1)(323,-1)(324,-1)(325,-1)(326,-1)(374,-1)(377,-1)(378,-1)(379,-1)(380,-1)(381,-1)(385,-1)(386,-1)(387,-1)(391,-1)(392,-1)(393,-1)(394,-1)(395,-1)(396,-1)(397,-1)(398,-1)(399,-1)(400,-1)(401,-1)(402,-1)(403,-1)(407,-1)(408,-1)(409,-1)(410,-1)(419,-1)};
\addplot[ybar,bar width=4.8pt,bar shift=0pt,fill=green!90!black,draw=none] coordinates {(0,.5)(1,.5)(3,.5)(36,.5)(38,.5)(39,.5)(41,.5)(42,.5)(46,.5)(57,.5)(58,.5)(59,.5)(60,.5)(72,.5)(74,.5)(86,.5)(87,.5)(88,.5)(89,.5)(91,.5)(92,.5)(93,.5)(96,.5)(101,.5)(102,.5)(103,.5)(104,.5)(105,.5)(106,.5)(107,.5)(108,.5)(109,.5)(137,.5)(138,.5)(147,.5)(163,.5)(164,.5)(165,.5)(166,.5)(167,.5)(168,.5)(170,.5)(174,.5)(177,.5)(178,.5)(180,.5)(182,.5)(183,.5)(187,.5)(189,.5)(190,.5)(192,.5)(193,.5)(223,.5)(224,.5)(225,.5)(328,.5)(329,.5)(331,.5)(333,.5)(334,.5)(337,.5)(340,.5)(364,.5)(365,.5)(366,.5)(367,.5)(368,.5)(421,.5)(422,.5)};
\addplot[ybar,bar width=4.8pt,bar shift=0pt,fill=oran,draw=none] coordinates {(6,-.5)(7,-.5)(8,-.5)(9,-.5)(47,-.5)(48,-.5)(49,-.5)(51,-.5)(55,-.5)(56,-.5)(62,-.5)(71,-.5)(73,-.5)(84,-.5)(85,-.5)(90,-.5)(94,-.5)(95,-.5)(110,-.5)(111,-.5)(112,-.5)(113,-.5)(114,-.5)(115,-.5)(116,-.5)(118,-.5)(133,-.5)(134,-.5)(135,-.5)(136,-.5)(169,-.5)(171,-.5)(173,-.5)(175,-.5)(176,-.5)(191,-.5)(194,-.5)(195,-.5)(196,-.5)(197,-.5)(198,-.5)(199,-.5)(200,-.5)(201,-.5)(212,-.5)(218,-.5)(219,-.5)(220,-.5)(221,-.5)(222,-.5)(226,-.5)(227,-.5)(230,-.5)(232,-.5)(233,-.5)(234,-.5)(258,-.5)(259,-.5)(266,-.5)(267,-.5)(269,-.5)(291,-.5)(292,-.5)(293,-.5)(294,-.5)(295,-.5)(296,-.5)(297,-.5)(298,-.5)(299,-.5)(300,-.5)(301,-.5)(302,-.5)(303,-.5)(304,-.5)(305,-.5)(307,-.5)(308,-.5)(309,-.5)(319,-.5)(320,-.5)(327,-.5)(330,-.5)(339,-.5)(369,-.5)(370,-.5)(371,-.5)(372,-.5)(373,-.5)(375,-.5)(376,-.5)(382,-.5)(383,-.5)(384,-.5)(388,-.5)(389,-.5)(390,-.5)(404,-.5)(405,-.5)(406,-.5)(411,-.5)(412,-.5)(413,-.5)(414,-.5)(415,-.5)(416,-.5)(417,-.5)(418,-.5)(419,-.5)(420,-.5)};
% dotted average
\addplot[color=white,line width=1.6pt,dash pattern=on 3pt off 3pt] coordinates {(-0.1,.74)(8.4,.75)(9.4,.74)(14.6,.76)(25,.79)(30.2,.81)(35.3,.83)(45.7,.86)(50.9,.86)(63.3,.85)(71.6,.82)(76.3,.84)(79.9,.76)(88.2,.68)(96.5,.65)(98.5,.67)(108.9,.69)(122.4,.66)(131.7,.60)(137.9,.58)(142.1,.66)(152.4,.66)(161.5,.71)(167.8,.75)(177.1,.76)(186.4,.81)(196.8,.78)(203,.78)(210.3,.74)(223.7,.72)(243.4,.67)(246.5,.62)(254.8,.44)(263.1,.26)(270.4,.13)(276.6,.01)(282.8,-.21)(291.1,-.47)(302.5,-.52)(317,-.62)(324,-.68)(327,-.70)(340.9,-.69)(344.9,-.61)(353.8,-.34)(363.7,-.01)(368.6,.06)(377.5,-.01)(385.4,-.10)(395.4,-.23)(403.3,-.39)(413.2,-.48)(423.1,-.51)};
% band position line
\addplot[color=skyl,line width=3.6pt] coordinates {(-0.1,.79)(4.2,.82)(8.4,.77)};
\addplot[color=crim,line width=3.6pt] coordinates {(8.4,.77)(9.4,.74)};
\addplot[color=skyl,line width=3.6pt] coordinates {(9.4,.74)(12.5,.78)(15.6,.79)(17.7,.82)(22.9,.83)(25.5,.88)(44.7,.88)(50.9,.86)};
\addplot[color=crim,line width=3.6pt] coordinates {(50.9,.86)(54,.83)(63.3,.83)(65.4,.79)(70.6,.76)};
\addplot[color=skyl,line width=3.6pt] coordinates {(71.1,.76)(72.1,.82)(75.7,.85)};
\addplot[color=crim,line width=3.6pt] coordinates {(75.7,.85)(76.8,.68)(79.4,.49)(83.5,.49)(87.1,.62)(93.4,.64)(96,.61)};
\addplot[color=skyl,line width=3.6pt] coordinates {(96,.61)(98.5,.71)(108.9,.72)};
\addplot[color=crim,line width=3.6pt] coordinates {(108.9,.71)(111,.66)(122.4,.63)(124.4,.51)(128.6,.51)(131.7,.49)(136.4,.50)(138.4,.57)};
\addplot[color=skyl,line width=3.6pt] coordinates {(138.4,.57)(142.1,.71)(149.3,.71)(153.5,.79)(161.5,.82)(161.6,.85)(168.8,.78)(170.9,.78)};
\addplot[color=crim,line width=3.6pt] coordinates {(170.9,.78)(173,.75)(176.1,.75)};
\addplot[color=skyl,line width=3.6pt] coordinates {(176.1,.75)(179.2,.79)(181.3,.82)(186.4,.82)(188.5,.78)(196.8,.79)};
\addplot[color=crim,line width=3.6pt] coordinates {(196.8,.78)(202.5,.78)(206.1,.69)(213.4,.69)(223.7,.71)};
\addplot[color=skyl,line width=3.6pt] coordinates {(223.7,.72)(226.8,.72)};
\addplot[color=crim,line width=3.6pt] coordinates {(226.8,.72)(228.9,.69)(236.2,.69)(240.3,.62)(246.5,.24)(252.8,.19)(254.3,0)(259,.01)(263.1,-.17)(266.2,-.17)(268.3,-.13)(271.9,-.13)(275.6,-.43)(279.7,-.71)(285.9,-.92)(290.1,-.86)(294.2,-.60)(296.3,-.60)(299.4,-.63)(304.6,-.63)(309.7,-.66)(311.8,-.70)(317,-.70)(319.6,-.70)(322.2,-.86)(324,-.89)(326.5,-.86)(329,-.75)(331.5,-.72)};
\addplot[color=skyl,line width=3.6pt] coordinates {(331.5,-.72)(336,-.63)(338.9,-.63)(340.9,-.61)(343.9,-.30)(345.4,-.08)(347.8,.06)(350.8,.25)(353.8,.26)(356.7,.38)(361.7,.41)(365.6,.33)(367.6,.30)(368.8,.19)};
\addplot[color=crim,line width=3.6pt] coordinates {(369.1,.17)(373.6,-.14)(377.5,-.19)(383.5,-.22)(387.4,-.34)(389.9,-.34)(395.4,-.61)(402.3,-.69)(405.3,-.59)(410.2,-.61)(418.1,-.58)(422.1,-.58)};
\addplot[color=skyl,line width=3.6pt] coordinates {(422.1,-.57)(423.1,-.49)};
\end{axis}
% --- overlays: tabs, buttons, watch list, symbol panel, texts
\Rr{86}{5}{239}{21}{tabr}
\Rr{242}{5}{373}{21}{tabb}
\Rr{376}{5}{525}{21}{tabr}
\Tx{center}{162}{13}{text=white,font=\bfseries\fs{15}}{HONG KONG 19:28}
\Tx{center}{307}{13}{text=white,font=\bfseries\fs{15}}{LONDON 11:28}
\Tx{center}{450}{13}{text=white,font=\bfseries\fs{15}}{NEW YORK 06:28}
\Tx{west}{21}{10.5}{text=gray!80,font=\fs{10}}{US500,M15}
\fill[gray!80] (10pt,{1059pt-7pt}) -- (17pt,{1059pt-7pt}) -- (13.5pt,{1059pt-13pt}) -- cycle;
\fill[white] (3407pt,{1059pt-3pt}) -- (3417pt,{1059pt-3pt}) -- (3412pt,{1059pt-9pt}) -- cycle;
\Tx{center}{623}{47}{text=aqua,font=\fs{50}}{9.13\%}
% tooltip
\fill[black!50] (1446.5pt,{1059pt-385pt}) rectangle (1541.5pt,{1059pt-415pt});
\draw[fill=yellow!8!white,draw=black,line width=1pt] (1444.5pt,{1059pt-383pt}) rectangle (1539.5pt,{1059pt-413pt});
\Tx{west}{1447}{392}{text=black,font=\fs{11}}{MMATH-gXardI08}
\Tx{west}{1447}{405}{text=black,font=\fs{11}}{3749.26}
% buttons
\draw[fill=black!85!white,draw=gray,line width=1pt] (10pt,{1059pt-829pt}) rectangle (48pt,{1059pt-851pt});
\Tx{center}{29}{840}{text=gray!70,font=\fs{12}}{ON}
\Rr{205}{856}{242}{881}{darkr}
\Rr{247}{856}{285}{881}{darkr}
\Rr{289}{856}{342}{881}{darkr}
\Tx{center}{223.5}{868.5}{text=gray!40,font=\bfseries\fs{14}}{ZZ1}
\Tx{center}{266}{868.5}{text=gray!40,font=\bfseries\fs{14}}{ZZ2}
\Tx{center}{315.5}{868.5}{text=gray!40,font=\bfseries\fs{14}}{ADR\%}
\Tx{west}{14}{893}{text=gray!75,font=\fs{10}}{Bollinger Bands Hilo 1.0000}
% eighth levels
\Tx{center}{3478}{65}{text=lime,font=\itshape\fs{28}}{3/8th}
\Tx{center}{3478}{266}{text=hpink,font=\itshape\fs{28}}{2/8th}
\Tx{center}{3478}{467}{text=maG,font=\itshape\fs{28}}{1/8th}
\Tx{center}{3478}{667}{text=dodger,font=\itshape\fs{28}}{0/8th}
\Tx{center}{3478}{868}{text=orred,font=\itshape\fs{28}}{-1/8th}
% current price tag
\Rr{3795}{585}{3839}{596}{gray!45}
\Tx{center}{3817}{590.5}{text=black!70,font=\fs{9.2}}{3761.89}
% watch list
\draw[fill=panf,draw=white,line width=3pt] (18pt,{1059pt-124pt}) rectangle (385pt,{1059pt-311pt});
\foreach \t/\x in {M1/78,M5/110,M30/172,H1/200,H4/232,D1/262,W1/295,MN1/326}{\Tx{center}{\x}{138}{text=gray!55,font=\bfseries\fs{13.5}}{\t}}
\Tx{center}{139}{138}{text=dodger,font=\bfseries\fs{13.5}}{M15}
\Tx{west}{27}{159}{text=gray!75,font=\bfseries\fs{14.5}}{PAIRS}
\foreach \t/\x in {Bid/130,PFO/190,HiLo/237,9/277,18/307,27/334,36/362}{\Tx{center}{\x}{159}{text=gray!75,font=\bfseries\fs{14.5}}{\t}}
\foreach \p/\pc/\b/\bc/\f/\fc/\h/\r in {WS30/white/30425/vio/111/vio/416/182,US500/dodger/3761.9/vio/120/vio/548/204,NDX100/white/13078/vio/83/vio/252/226,US2000/white/2101.5/green/69/green/398/248,HK50/white/28363/vio/481/vio/876/270,XAUUSD/white/1858.9/green/166/green/206/292}{
 \Tx{west}{27}{\r}{text=\pc,font=\bfseries\fs{20}}{\scalebox{.82}[1]{\p}}
 \Tx{west}{104}{\r}{text=\bc,font=\bfseries\fs{19.5}}{\b}
 \Tx{west}{174}{\r}{text=\fc,font=\bfseries\fs{19.5}}{\f}
 \Tx{west}{220}{\r}{text=gray!55,font=\bfseries\fs{19.5}}{\h}
}
\foreach \r in {182,204,226,248,270,292}{\foreach \a/\b in {267/291,294/318,321/345,348/372}{
 \fill[dodger] (\a pt,{1059pt-\r pt+6pt}) rectangle (\b pt,{1059pt-\r pt-6pt});}}
\foreach \a/\b in {321/345,348/372}{\fill[oran] (\a pt,{1059pt-270pt+6pt}) rectangle (\b pt,{1059pt-270pt-6pt});}
% symbol panel
\draw[fill=panf,draw=white,line width=1.5pt] (3686pt,{1059pt-13pt}) rectangle (3781pt,{1059pt-287pt});
\Tx{east}{3771}{33}{text=white,font=\bfseries\fs{20.5}}{US500}
\Tx{east}{3771}{55}{text=vio,font=\dv\bfseries\fs{19.5}}{3761.9}
\Tx{center}{3735}{74}{text=white,font=\mono\bfseries\fs{14.5}}{SPD:6.0}
\Tx{center}{3733}{92}{text=oran,font=\fs{19.5}}{00:01:39}
\Tx{center}{3734}{108}{text=maG,font=\mono\bfseries\fs{14.5}}{Open}
\Tx{center}{3733}{124}{text=vio,font=\dv\bfseries\fs{15.5}}{3773.9}
\Tx{center}{3733}{143}{text=maG,font=\mono\bfseries\fs{14.5}}{BidRatio}
\Rr{3697}{152}{3769}{176}{steel}
\Tx{east}{3764}{164}{text=gray!60,font=\fs{24}}{64\%}
\Tx{center}{3710}{188}{text=white,font=\bfseries\fs{15}}{PFO}
\Tx{east}{3770}{188}{text=vio,font=\bfseries\fs{14.5}}{-120}
\Tx{center}{3710}{204}{text=gray!60,font=\bfseries\fs{15}}{HiLo}
\Tx{east}{3770}{204}{text=gray!60,font=\bfseries\fs{14.5}}{548}
\Tx{center}{3710}{220}{text=white,font=\bfseries\fs{15}}{ADR}
\Tx{east}{3770}{220}{text=lime,font=\bfseries\fs{14.5}}{799}
\Tx{center}{3710}{236}{text=white,font=\bfseries\fs{14.5}}{61\%}
\Tx{east}{3770}{236}{text=white,font=\bfseries\fs{14.5}}{493}
\Tx{center}{3710}{252}{text=white,font=\bfseries\fs{14.5}}{38\%}
\Tx{east}{3770}{252}{text=white,font=\bfseries\fs{14.5}}{305}
\Tx{center}{3728}{271}{text=vio,font=\bfseries\fs{21}}{15\%}
\Tx{east}{3770}{266}{text=white,font=\fs{11}}{ADR}
% big score
\Tx{center}{3613}{975}{text=aqua,font=\bfseries\fs{133}}{\scalebox{1.09}[1]{+104}}
\fill[white!92!black] (0,0) rectangle (3840pt,3.5pt);
\end{tikzpicture}
\end{document}
